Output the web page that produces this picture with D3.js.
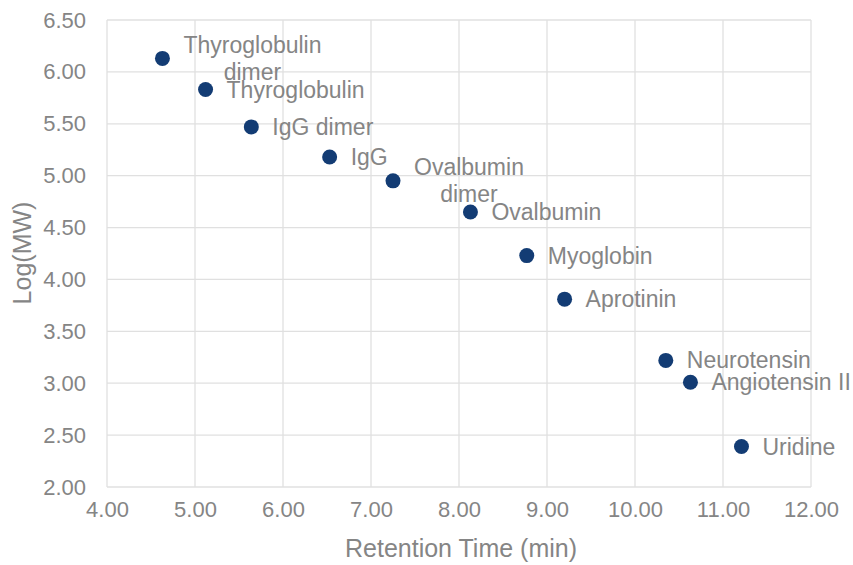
<!DOCTYPE html>
<html>
<head>
<meta charset="utf-8">
<script src="https://cdn.jsdelivr.net/npm/d3@7"></script>
<style>
  body { margin: 0; background: #fff; }
  svg text { font-family: "Liberation Sans", Arial, sans-serif; fill: #858585; }
</style>
</head>
<body>
<div id="chart"></div>
<script>
// standards: name (\n = wrapped label), retention time, log MW
var names = ["Thyroglobulin\ndimer", "Thyroglobulin", "IgG dimer", "IgG", "Ovalbumin\ndimer",
             "Ovalbumin", "Myoglobin", "Aprotinin", "Neurotensin", "Angiotensin II", "Uridine"];
var retention = [4.63, 5.12, 5.64, 6.53, 7.25, 8.13, 8.77, 9.2, 10.35, 10.63, 11.21];
var logMW = [6.13, 5.83, 5.47, 5.18, 4.95, 4.65, 4.23, 3.81, 3.22, 3.01, 2.39];
var xTicks = [4, 5, 6, 7, 8, 9, 10, 11, 12];
var yTicks = [2, 2.5, 3, 3.5, 4, 4.5, 5, 5.5, 6, 6.5];

var w = 853, h = 565;
var pLeft = 107, pRight = 811, pTop = 20, pBottom = 487;

var svg = d3.select("#chart").append("svg")
	.attr("width", w)
	.attr("height", h);

var x = d3.scaleLinear().domain([4, 12]).range([pLeft, pRight]);
var y = d3.scaleLinear().domain([2, 6.5]).range([pBottom, pTop]);

// gridlines
svg.append("g").selectAll("line")
	.data(xTicks).enter().append("line")
	.attr("x1", function(d){ return x(d); })
	.attr("x2", function(d){ return x(d); })
	.attr("y1", pTop).attr("y2", pBottom)
	.attr("stroke", "#e0e0e0").attr("stroke-width", 1.3);

svg.append("g").selectAll("line")
	.data(yTicks).enter().append("line")
	.attr("y1", function(d){ return y(d); })
	.attr("y2", function(d){ return y(d); })
	.attr("x1", pLeft).attr("x2", pRight)
	.attr("stroke", "#e0e0e0").attr("stroke-width", 1.3);

// axes, only the labels are kept
var xAxis = d3.axisBottom(x).tickValues(xTicks).tickFormat(d3.format(".2f")).tickSize(0).tickPadding(14);
var yAxis = d3.axisLeft(y).tickValues(yTicks).tickFormat(d3.format(".2f")).tickSize(0).tickPadding(21);

var gX = svg.append("g").attr("transform", "translate(0," + pBottom + ")").call(xAxis);
var gY = svg.append("g").attr("transform", "translate(" + pLeft + ",0)").call(yAxis);
[gX, gY].forEach(function(g){
	g.select(".domain").remove();
	g.selectAll("text")
		.attr("fill", "#858585")
		.style("font-size", "22px")
		.style("font-family", "'Liberation Sans', Arial, sans-serif");
});

// axis titles
svg.append("text")
	.attr("x", (pLeft + pRight) / 2 + 2)
	.attr("y", 557)
	.attr("text-anchor", "middle")
	.style("font-size", "25px")
	.text("Retention Time (min)");

svg.append("text")
	.attr("transform", "translate(31," + 253 + ") rotate(-90)")
	.attr("text-anchor", "middle")
	.style("font-size", "25px")
	.text("Log(MW)");

// points
svg.append("g").selectAll("circle")
	.data(d3.range(names.length)).enter().append("circle")
	.attr("cx", function(i){ return x(retention[i]); })
	.attr("cy", function(i){ return y(logMW[i]); })
	.attr("r", 7.5)
	.attr("fill", "#133c74");

// labels, multi-line ones are centred and stacked around the point
var lineH = 27;
svg.append("g").selectAll("text")
	.data(d3.range(names.length)).enter().append("text")
	.style("font-size", "23px")
	.each(function(i){
		var t = d3.select(this);
		var lines = names[i].split("\n");
		var px = x(retention[i]) + 21;
		var py = y(logMW[i]) - (lines.length - 1) * lineH / 2 + 8;
		lines.forEach(function(s, k){
			t.append("tspan").attr("x", px).attr("y", py + k * lineH).text(s);
		});
		if (lines.length > 1) {
			var maxW = 0;
			t.selectAll("tspan").each(function(){ maxW = Math.max(maxW, this.getComputedTextLength()); });
			t.attr("text-anchor", "middle");
			t.selectAll("tspan").attr("x", px + maxW / 2);
		}
	});
</script>
</body>
</html>
